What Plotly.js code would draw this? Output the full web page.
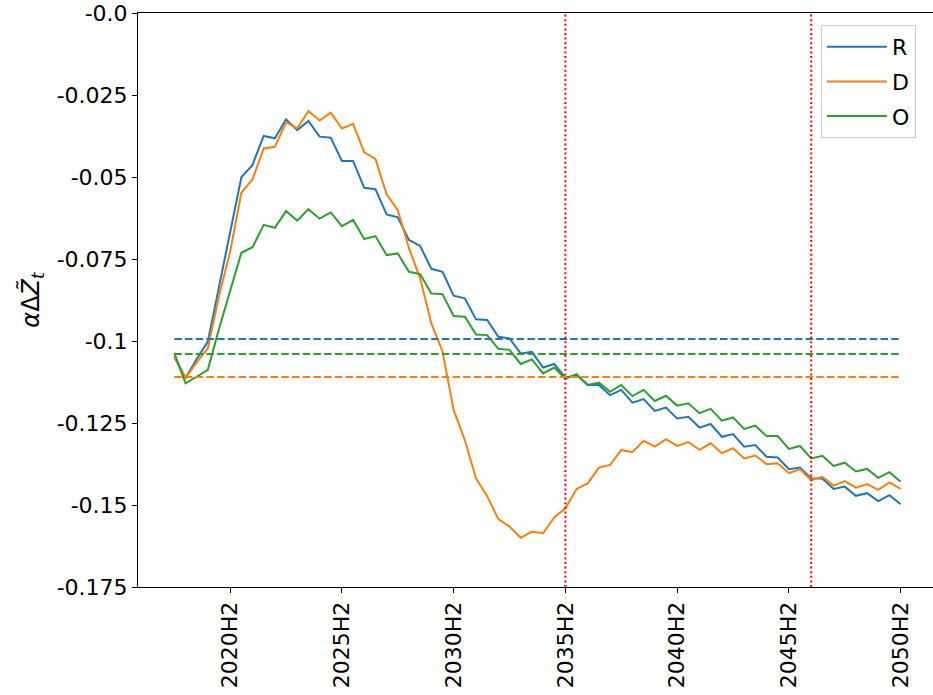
<!DOCTYPE html>
<html>
<head>
<meta charset="utf-8">
<script src="https://cdn.plot.ly/plotly-3.0.1.min.js"></script>
<style>html,body{margin:0;padding:0;background:#fff;}#chart{width:933px;height:695px;}</style>
</head>
<body>
<div id="chart"></div>
<script>
// Half-year periods 2018H1 .. 2050H2
const periods = [];
for (let y = 2018; y <= 2050; y++) { periods.push(y + 'H1'); periods.push(y + 'H2'); }

const seriesR = [-0.1048,-0.1113,-0.1055,-0.1002,-0.0835,-0.0668,-0.0501,-0.0463,-0.0375,-0.0382,
  -0.0324,-0.0357,-0.0329,-0.0377,-0.0380,-0.0451,-0.0451,-0.0533,-0.0537,-0.0614,
  -0.0623,-0.0692,-0.0710,-0.0780,-0.0789,-0.0862,-0.0870,-0.0934,-0.0936,-0.0987,
  -0.0992,-0.1038,-0.1033,-0.1081,-0.1070,-0.1112,-0.1104,-0.1134,-0.1134,-0.1165,
  -0.1149,-0.1188,-0.1177,-0.1213,-0.1203,-0.1236,-0.1231,-0.1264,-0.1253,-0.1292,
  -0.1284,-0.1322,-0.1317,-0.1353,-0.1355,-0.1391,-0.1386,-0.1419,-0.1419,-0.1451,
  -0.1444,-0.1472,-0.1464,-0.1488,-0.1470,-0.1498];

const seriesD = [-0.1048,-0.1113,-0.1065,-0.1022,-0.0863,-0.0727,-0.0548,-0.0507,-0.0413,-0.0408,
  -0.0333,-0.0352,-0.0299,-0.0328,-0.0304,-0.0352,-0.0338,-0.0425,-0.0445,-0.0553,
  -0.0601,-0.0717,-0.0809,-0.0946,-0.1032,-0.1210,-0.1302,-0.1419,-0.1473,-0.1543,
  -0.1566,-0.1600,-0.1581,-0.1586,-0.1538,-0.1510,-0.1451,-0.1434,-0.1386,-0.1378,
  -0.1332,-0.1339,-0.1304,-0.1322,-0.1299,-0.1320,-0.1308,-0.1332,-0.1312,-0.1342,
  -0.1327,-0.1358,-0.1349,-0.1376,-0.1373,-0.1403,-0.1391,-0.1424,-0.1414,-0.1441,
  -0.1427,-0.1447,-0.1436,-0.1454,-0.1431,-0.1451];

const seriesO = [-0.1036,-0.1129,-0.1109,-0.1088,-0.0963,-0.0844,-0.0731,-0.0714,-0.0646,-0.0655,
  -0.0604,-0.0633,-0.0598,-0.0627,-0.0608,-0.0650,-0.0631,-0.0689,-0.0680,-0.0738,
  -0.0733,-0.0789,-0.0796,-0.0855,-0.0857,-0.0924,-0.0926,-0.0980,-0.0982,-0.1024,
  -0.1027,-0.1070,-0.1056,-0.1099,-0.1081,-0.1115,-0.1101,-0.1134,-0.1127,-0.1155,
  -0.1134,-0.1168,-0.1149,-0.1183,-0.1167,-0.1197,-0.1190,-0.1220,-0.1207,-0.1243,
  -0.1233,-0.1268,-0.1258,-0.1290,-0.1290,-0.1329,-0.1320,-0.1358,-0.1350,-0.1381,
  -0.1371,-0.1398,-0.1390,-0.1417,-0.1400,-0.1429];

const meanR = -0.0994, meanD = -0.1110, meanO = -0.1040;
const markerPeriods = ['2035H2', '2046H2'];

const xTicks = ['2020H2','2025H2','2030H2','2035H2','2040H2','2045H2','2050H2'];
const yTickVals = [0, -0.025, -0.05, -0.075, -0.1, -0.125, -0.15, -0.175];
const yTickText = ['-0.0','-0.025','-0.05','-0.075','-0.1','-0.125','-0.15','-0.175'];

const cR = '#1f77b4', cD = '#ff7f0e', cO = '#2ca02c';
const first = periods[0], last = periods[periods.length - 1];

const traces = [
  {x: periods, y: seriesR, name: 'R', legendgroup: 'r', mode: 'lines', line: {color: cR, width: 2}},
  {x: periods, y: seriesD, name: 'D', legendgroup: 'd', mode: 'lines', line: {color: cD, width: 2}},
  {x: periods, y: seriesO, name: 'O', legendgroup: 'o', mode: 'lines', line: {color: cO, width: 2}},
  {x: [first, last], y: [meanR, meanR], mode: 'lines', showlegend: false, hoverinfo: 'skip', line: {color: cR, width: 2, dash: '7.5px,3.2px'}},
  {x: [first, last], y: [meanO, meanO], mode: 'lines', showlegend: false, hoverinfo: 'skip', line: {color: cO, width: 2, dash: '7.5px,3.2px'}},
  {x: [first, last], y: [meanD, meanD], mode: 'lines', showlegend: false, hoverinfo: 'skip', line: {color: cD, width: 2, dash: '7.5px,3.2px'}}
];

const shapes = markerPeriods.map(p => ({
  type: 'line', xref: 'x', yref: 'paper', x0: p, x1: p, y0: 0, y1: 1,
  line: {color: 'red', width: 2, dash: '2px,2.6px'}
}));

const layout = {
  width: 933, height: 695,
  margin: {l: 138, r: 0, t: 13, b: 108},
  paper_bgcolor: '#fff', plot_bgcolor: '#fff',
  font: {family: 'DejaVu Sans', size: 22, color: '#000'},
  showlegend: true,
  legend: {
    x: 0.859, y: 0.979, xanchor: 'left', yanchor: 'top',
    bgcolor: 'rgba(255,255,255,0.8)', bordercolor: '#cccccc', borderwidth: 1,
    font: {family: 'DejaVu Sans', size: 22, color: '#000'},
    itemwidth: 60, tracegroupgap: 3
  },
  xaxis: {
    type: 'category', range: [-3.25, 67.9],
    tickmode: 'array', tickvals: xTicks, ticktext: xTicks,
    tickangle: -90, ticks: 'outside', ticklen: 5, tickwidth: 1, tickcolor: '#000',
    showline: true, linecolor: '#000', linewidth: 1, mirror: true,
    showgrid: false, zeroline: false,
    tickfont: {family: 'DejaVu Sans', size: 22, color: '#000'}
  },
  yaxis: {
    range: [-0.175, 0],
    tickmode: 'array', tickvals: yTickVals, ticktext: yTickText,
    ticks: 'outside', ticklen: 5, tickwidth: 1, tickcolor: '#000',
    showline: true, linecolor: '#000', linewidth: 1, mirror: false,
    showgrid: false, zeroline: false,
    tickfont: {family: 'DejaVu Sans', size: 22, color: '#000'},
    title: {text: '<i>α</i>Δ<i>Z̃</i><sub><i>t</i></sub>', font: {family: 'DejaVu Sans', size: 24, color: '#000'}, standoff: 10}
  },
  shapes: shapes
};

Plotly.newPlot('chart', traces, layout, {staticPlot: true, displayModeBar: false});
</script>
</body>
</html>
